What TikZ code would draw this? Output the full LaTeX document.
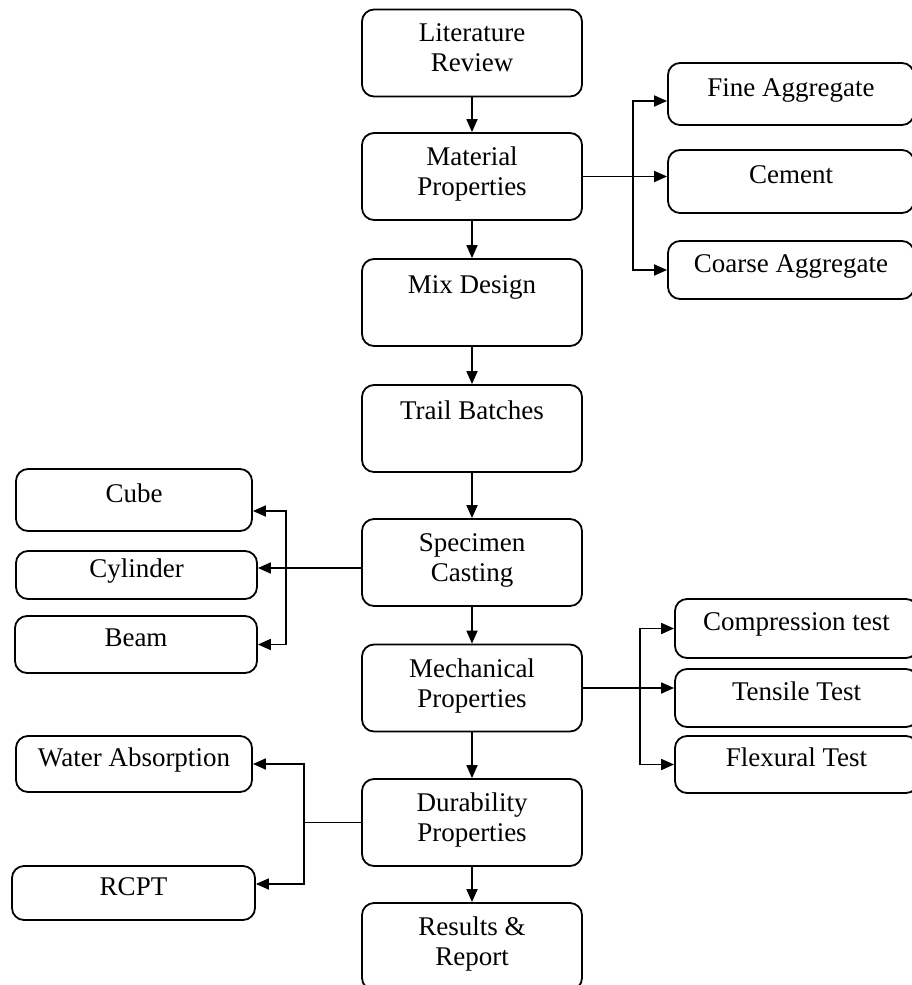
\documentclass[tikz,border=0pt]{standalone}
\usepackage{fontspec}
\setmainfont{Liberation Serif}
\usepackage{tikz}
\usetikzlibrary{arrows.meta}

\tikzset{
  box/.style={draw, line width=0.9pt, rounded corners=6pt, align=center,
    inner sep=0pt, font=\fontsize{13.5}{15}\selectfont},
  stepbox/.style={box, minimum width=110pt, minimum height=43.5pt},
  stepone/.style={stepbox, text height=9pt, text depth=18pt},
  steptwo/.style={stepbox, text depth=5pt},
  sidebox/.style={box, text height=9pt, text depth=7pt},
  link/.style={line width=0.9pt},
  arr/.style={link, -{Triangle[length=6.5pt,width=5.5pt]}}
}

\begin{document}
\begin{tikzpicture}[x=0.5pt, y=-0.5pt]
\useasboundingbox (0,0) rectangle (911,985);

%% main column
\node[steptwo] (lit)   at (472,53)    {Literature\\Review};
\node[steptwo] (mat)   at (472,176.5) {Material\\Properties};
\node[stepone] (mix)   at (472,302.5) {Mix Design};
\node[stepone] (trail) at (472,428.5) {Trail Batches};
\node[steptwo] (spec)  at (472,562.5) {Specimen\\Casting};
\node[steptwo] (mech)  at (472,688)   {Mechanical\\Properties};
\node[steptwo] (dur)   at (472,822.5) {Durability\\Properties};
\node[steptwo] (res)   at (472,946.5) {Results \&\\Report};

\draw[arr] (lit) -- (mat);
\draw[arr] (mat) -- (mix);
\draw[arr] (mix) -- (trail);
\draw[arr] (trail) -- (spec);
\draw[arr] (spec) -- (mech);
\draw[arr] (mech) -- (dur);
\draw[arr] (dur) -- (res);

%% materials
\node[sidebox, minimum width=123pt, minimum height=31pt]   (fine)   at (791,94)    {Fine Aggregate};
\node[sidebox, minimum width=123pt, minimum height=31.5pt] (cem)    at (791,181.5) {Cement};
\node[sidebox, minimum width=123pt, minimum height=29pt]   (coarse) at (791,270)   {Coarse Aggregate};

\draw[arr] (mat.east) -- (mat.east -| cem.west);
\path (mat.east) ++(50,0) coordinate (matj);
\draw[arr] (matj) |- ([yshift=-3.5pt]fine.west);
\draw[arr] (matj) |- (coarse.west);

%% specimens
\node[sidebox, minimum width=118pt, minimum height=31pt]   (cube) at (134,500)   {Cube};
\node[sidebox, minimum width=120.5pt, minimum height=24pt] (cyl)  at (136.5,575) {Cylinder};
\node[sidebox, minimum width=121pt, minimum height=28.5pt] (beam) at (136,644.5) {Beam};

\path ([yshift=-2.75pt]spec.west) coordinate (specw) ++(-75,0) coordinate (specj);
\draw[arr] (specw) -- (specw -| cyl.east);
\draw[arr] (specj) |- ([yshift=-5.5pt]cube.east);
\draw[arr] (specj) |- (beam.east);

%% mechanical tests
\node[sidebox, minimum width=121.5pt, minimum height=29.5pt] (comp) at (796.5,628.5) {Compression test};
\node[sidebox, minimum width=121.5pt, minimum height=29pt]   (tens) at (796.5,698)   {Tensile Test};
\node[sidebox, minimum width=121.5pt, minimum height=28.5pt] (flex) at (796.5,764.5) {Flexural Test};

\draw[arr] (mech.east) -- (mech.east -| tens.west);
\path (mech.east) ++(57,0) coordinate (mechj);
\draw[arr] (mechj) |- (comp.west);
\draw[arr] (mechj) |- (flex.west);

%% durability tests
\node[sidebox, minimum width=118pt, minimum height=28pt]   (water) at (134,764)   {Water Absorption};
\node[sidebox, minimum width=121.5pt, minimum height=27pt] (rcpt)  at (133.5,893) {RCPT};

\draw[link] (dur.west) -- ++(-57,0) coordinate (durj);
\draw[arr] (durj) |- (water.east);
\draw[arr] (durj) |- ([yshift=4.5pt]rcpt.east);

\end{tikzpicture}
\end{document}
